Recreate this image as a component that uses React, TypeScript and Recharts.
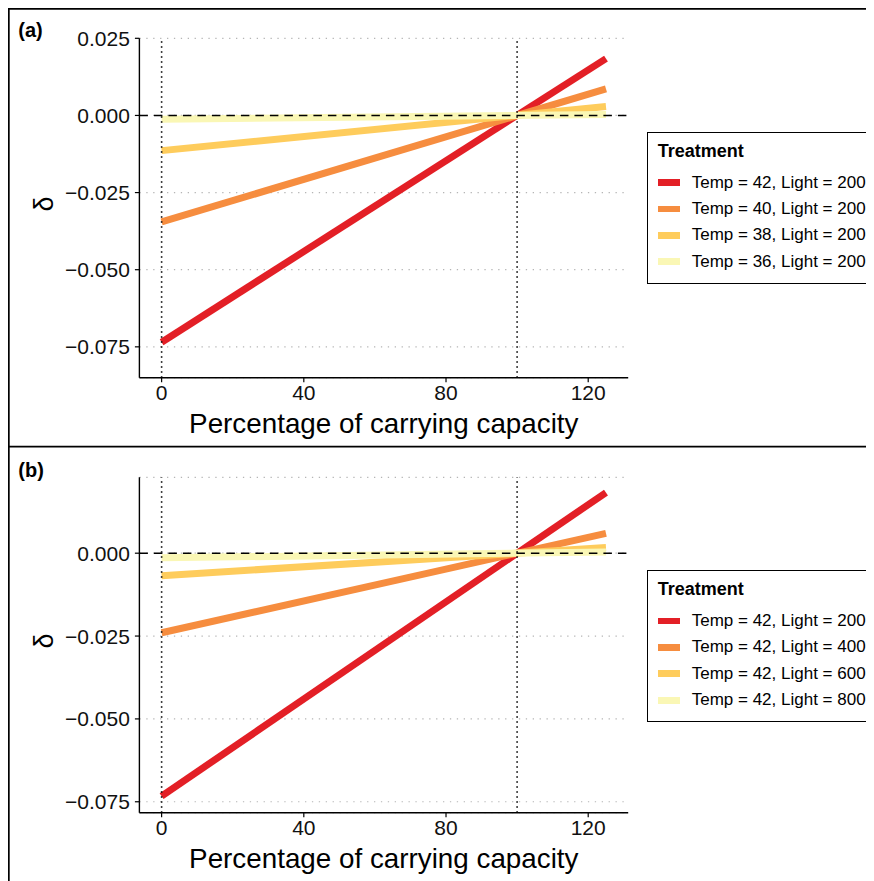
import { CartesianGrid, Label, Legend, Line, LineChart, ReferenceLine, XAxis, YAxis } from 'recharts'

// x positions (% of carrying capacity) where each fitted line is evaluated
const xValues = [0, 125]

// panel (a): temperature series at light = 200
const temp42 = [-0.0735, 0.0184]
const temp40 = [-0.0345, 0.0086]
const temp38 = [-0.0114, 0.0029]
const temp36 = [-0.0012, 0.0003]
const namesA = ['Temp = 42, Light = 200', 'Temp = 40, Light = 200', 'Temp = 38, Light = 200', 'Temp = 36, Light = 200']

// panel (b): light series at temp = 42
const light200 = [-0.0733, 0.0183]
const light400 = [-0.024, 0.006]
const light600 = [-0.0068, 0.0017]
const light800 = [-0.0014, 0.00035]
const namesB = ['Temp = 42, Light = 200', 'Temp = 42, Light = 400', 'Temp = 42, Light = 600', 'Temp = 42, Light = 800']

const xTicks = [0, 40, 80, 120]
const yTicksA = [0.025, 0, -0.025, -0.05, -0.075]
const yTicksB = [0, -0.025, -0.05, -0.075]

const colors = ['#E31F26', '#F68D3F', '#FECC5C', '#FAF7B5']
const FONT = '"Liberation Sans", Arial, Helvetica, sans-serif'

const W = 900
const fmtY = (v: number) => (v < 0 ? '\u2212' : '') + Math.abs(v).toFixed(3)

function buildRows(series: number[][]) {
  return xValues.map((x, i) => {
    const row: Record<string, number> = { x }
    series.forEach((s, k) => {
      row[`s${k}`] = s[i]
    })
    return row
  })
}

function TreatmentLegend({ payload, names }: any) {
  const items = [...(payload ?? [])].sort((a: any, b: any) => names.indexOf(a.value) - names.indexOf(b.value))
  return (
    <div
      style={{
        position: 'relative',
        width: 260,
        height: 152,
        border: '1.6px solid #000',
        boxSizing: 'border-box',
        background: '#fff',
        fontFamily: FONT,
      }}
    >
      <div style={{ position: 'absolute', left: 10, top: 7, fontSize: 18, fontWeight: 700, lineHeight: '22px' }}>
        Treatment
      </div>
      {items.map((p: any, i: number) => (
        <div key={i} style={{ position: 'absolute', left: 0, top: 37 + i * 26.4, height: 26, width: 250 }}>
          <div style={{ position: 'absolute', left: 10.7, top: 9.6, width: 21.7, height: 6.8, background: p.color }} />
          <div style={{ position: 'absolute', left: 44, top: 2, fontSize: 17, lineHeight: '22px', color: '#000', whiteSpace: 'nowrap' }}>
            {p.value}
          </div>
        </div>
      ))}
    </div>
  )
}

function Panel({
  series,
  names,
  yDomain,
  yTicks,
  height,
  top,
  xAxisHeight,
  legendTop,
}: {
  series: number[][]
  names: string[]
  yDomain: [number, number]
  yTicks: number[]
  height: number
  top: number
  xAxisHeight: number
  legendTop: number
}) {
  const rows = buildRows(series)
  const tickStyle = { fontSize: 21, fill: '#111', fontFamily: FONT }
  return (
    <LineChart
      width={W}
      height={height}
      data={rows}
      margin={{ top, right: W - 620.2, bottom: 0, left: 0 }}
      style={{ position: 'absolute', left: 0 }}
    >
      <CartesianGrid vertical={false} stroke="#b5b5b5" strokeWidth={1.2} strokeDasharray="1.3 5.6" />
      <XAxis
        dataKey="x"
        type="number"
        domain={[-6.25, 131.25]}
        ticks={xTicks}
        height={xAxisHeight}
        stroke="#000"
        strokeWidth={1.4}
        tickSize={4.5}
        tickMargin={3}
        tick={tickStyle}
        tickLine={{ stroke: '#000', strokeWidth: 1.2 }}
        allowDataOverflow
      >
        <Label
          value="Percentage of carrying capacity"
          position="insideBottom"
          offset={xAxisHeight - 55}
          style={{ fontSize: 27.8, fill: '#000', fontFamily: FONT }}
        />
      </XAxis>
      <YAxis
        type="number"
        domain={yDomain}
        ticks={yTicks}
        width={131.4}
        stroke="#000"
        strokeWidth={1.4}
        tickSize={4.5}
        tickMargin={5}
        tick={tickStyle}
        tickLine={{ stroke: '#000', strokeWidth: 1.2 }}
        tickFormatter={fmtY}
        allowDataOverflow
      >
        <Label
          content={({ viewBox }: any) => {
            const cx = 36
            const cy = viewBox.y + viewBox.height / 2 - 4
            return (
              <text
                x={cx}
                y={cy}
                transform={`rotate(-90, ${cx}, ${cy})`}
                textAnchor="middle"
                dominantBaseline="central"
                style={{ fontSize: 27, fill: '#000', fontFamily: FONT }}
              >
                δ
              </text>
            )
          }}
        />
      </YAxis>
      {series.map((_, k) => (
        <Line
          key={k}
          dataKey={`s${k}`}
          name={names[k]}
          stroke={colors[k]}
          strokeWidth={7}
          dot={false}
          activeDot={false}
          isAnimationActive={false}
          legendType="rect"
        />
      ))}
      <ReferenceLine y={0} stroke="#000" strokeWidth={1.4} strokeDasharray="8.5 6" />
      <ReferenceLine x={0} stroke="#000" strokeWidth={1.6} strokeDasharray="1.5 3.5" />
      <ReferenceLine x={100} stroke="#000" strokeWidth={1.6} strokeDasharray="1.5 3.5" />
      <Legend
        layout="vertical"
        align="center"
        verticalAlign="middle"
        content={(props: any) => <TreatmentLegend {...props} names={names} />}
        wrapperStyle={{ left: 638.7, top: legendTop, width: 260 }}
      />
    </LineChart>
  )
}

export default function App() {
  return (
    <>
      <style>{'html{overflow:hidden}'}</style>
      <div style={{ position: 'relative', width: W, height: 873, background: '#fff', fontFamily: FONT }}>
        <div style={{ position: 'absolute', left: 0, top: 0, width: W, height: 438 }}>
          <Panel
            series={[temp42, temp40, temp38, temp36]}
            names={namesA}
            yDomain={[-0.085, 0.025]}
            yTicks={yTicksA}
            height={438}
            top={30.3}
            xAxisHeight={68.3}
            legendTop={123.7}
          />
        </div>
        <div style={{ position: 'absolute', left: 0, top: 438, width: W, height: 435 }}>
          <Panel
            series={[light200, light400, light600, light800]}
            names={namesB}
            yDomain={[-0.0783, 0.0229]}
            yTicks={yTicksB}
            height={435}
            top={31.3}
            xAxisHeight={68.3}
            legendTop={124}
          />
        </div>
        <svg width={W} height={873} style={{ position: 'absolute', left: 0, top: 0, pointerEvents: 'none' }}>
          <line x1={0} y1={0.8} x2={W} y2={0.8} stroke="#000" strokeWidth={1.8} />
          <line x1={0.8} y1={0} x2={0.8} y2={873} stroke="#000" strokeWidth={1.8} />
          <line x1={0} y1={438.7} x2={W} y2={438.7} stroke="#000" strokeWidth={1.8} />
          <text x={10.3} y={28.5} style={{ fontSize: 20, fontWeight: 700, fontFamily: FONT }}>
            (a)
          </text>
          <text x={10.3} y={468.5} style={{ fontSize: 20, fontWeight: 700, fontFamily: FONT }}>
            (b)
          </text>
        </svg>
      </div>
    </>
  )
}
